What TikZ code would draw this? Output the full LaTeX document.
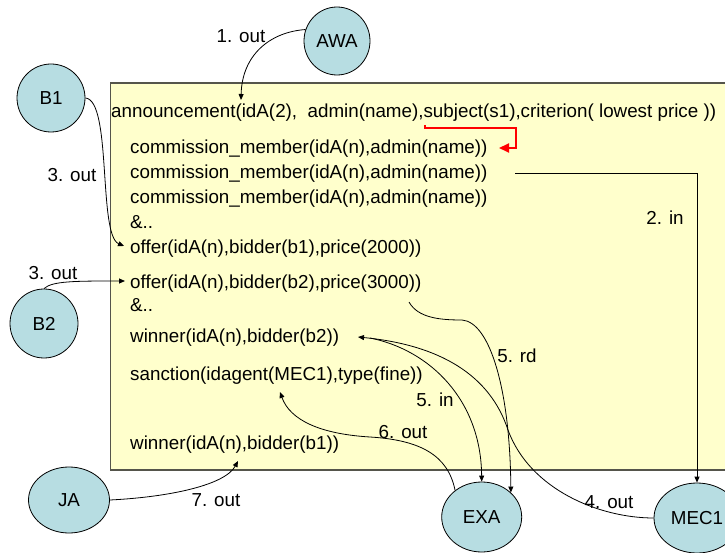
\documentclass[tikz,border=0pt]{standalone}
\usepackage{fontspec}
\setmainfont{Liberation Sans}
\usetikzlibrary{shapes.geometric,arrows.meta}
\definecolor{agentfill}{RGB}{183,221,226}
\definecolor{boxfill}{RGB}{255,255,204}
\definecolor{boxline}{RGB}{85,85,75}
\begin{document}
\begin{tikzpicture}[x=1pt,y=-1pt,font=\fontsize{18.8}{22}\selectfont,
  agent/.style={ellipse,draw=black,line width=0.8pt,fill=agentfill,inner sep=0pt},
  txt/.style={anchor=base west,inner sep=0pt},
  lbl/.style={inner sep=0pt},
  conn/.style={line width=0.8pt,-{Triangle[length=6pt,width=5pt]}}]
\useasboundingbox (0,0) rectangle (725,553);
\fill[white] (0,0) rectangle (725,553);
\draw[boxline,line width=1.5pt,fill=boxfill] (110.5,83) rectangle (745,470);
% texts in the box
\node[txt] (ann) at (111,117.3) {announcement(idA(2),\ \ admin(name),subject(s1),criterion( lowest price ))};
\node[txt] (cm1) at (130,154) {commission\_member(idA(n),admin(name))};
\node[txt] (cm2) at (130,179) {commission\_member(idA(n),admin(name))};
\node[txt] (cm3) at (130,203.5) {commission\_member(idA(n),admin(name))};
\node[txt] (amp1) at (130,228.5) {\&..};
\node[txt] (off1) at (130,253.3) {offer(idA(n),bidder(b1),price(2000))};
\node[txt] (off2) at (130,288.5) {offer(idA(n),bidder(b2),price(3000))};
\node[txt] (amp2) at (130,311.7) {\&..};
\node[txt] (win2) at (130,342.7) {winner(idA(n),bidder(b2))};
\node[txt] (sanc) at (130,380.7) {sanction(idagent(MEC1),type(fine))};
\node[txt] (win1) at (130,449.3) {winner(idA(n),bidder(b1))};
% agents
\node[agent,minimum width=66pt,minimum height=68pt] (AWA) at (337,41) {AWA};
\node[agent,minimum width=68pt,minimum height=68pt] (B1) at (51,98) {B1};
\node[agent,minimum width=68pt,minimum height=69pt] (B2) at (44,323.5) {B2};
\node[agent,minimum width=81pt,minimum height=66pt] (JA) at (69,500) {JA};
\node[agent,minimum width=80pt,minimum height=70pt] (EXA) at (481.7,517) {EXA};
\node[agent,minimum width=86pt,minimum height=70pt] (MEC1) at (697,518) {MEC1};
% labels
\node[lbl] (l1) at (241,36) {1. out};
\node[lbl] (l3a) at (72,175) {3. out};
\node[lbl] (l3b) at (53,273) {3. out};
\node[lbl] (l2) at (665,218) {2. in};
\node[lbl] (l5rd) at (517,356) {5. rd};
\node[lbl] (l5in) at (435,400) {5. in};
\node[lbl] (l6) at (403,432) {6. out};
\node[lbl] (l7) at (216,500) {7. out};
\node[lbl] (l4) at (609,502) {4. out};
% connector ends
\coordinate (annIn) at (241,100);
\coordinate (off1In) at (124,246);
\coordinate (off2In) at (125,281);
\coordinate (cm2Out) at (515,173);
\coordinate (off2Out) at (409,302);
\coordinate (win2In) at (358,337);
\coordinate (win2Out) at (370,338);
\coordinate (sancIn) at (280,392);
\coordinate (win1In) at (238,461);
\coordinate (subjOut) at (425,125);
\coordinate (cm1In) at (499,148);
% red arrow
\draw[red,line width=2pt,-{Triangle[length=10pt,width=9pt]}] (subjOut) |- (516,128) |- (cm1In);
% connectors
\draw[conn] (AWA.160) .. controls (270,32) and (242,55) .. (annIn);
\draw[conn] (B1.east) .. controls (112,100) and (98,235) .. (off1In);
\draw[conn] (B2.north) .. controls (52,281) and (75,281) .. (off2In);
\draw[conn] (cm2Out) -| (MEC1.north);
\draw[conn] (off2Out) .. controls (418,318) and (440,320) .. (462,320) .. controls (490,322) and (510,390) .. (EXA.40);
\draw[conn] (win2Out) .. controls (430,350) and (481,400) .. (EXA.north);
\draw[conn] (MEC1.west) .. controls (600,518) and (530,490) .. (508,430) .. controls (490,375) and (440,345) .. (win2In);
\draw[conn] (EXA.135) .. controls (448,455) and (420,440) .. (370,437) .. controls (320,434) and (290,420) .. (sancIn);
\draw[conn] (JA.east) .. controls (170,497) and (225,485) .. (win1In);
\end{tikzpicture}
\end{document}
